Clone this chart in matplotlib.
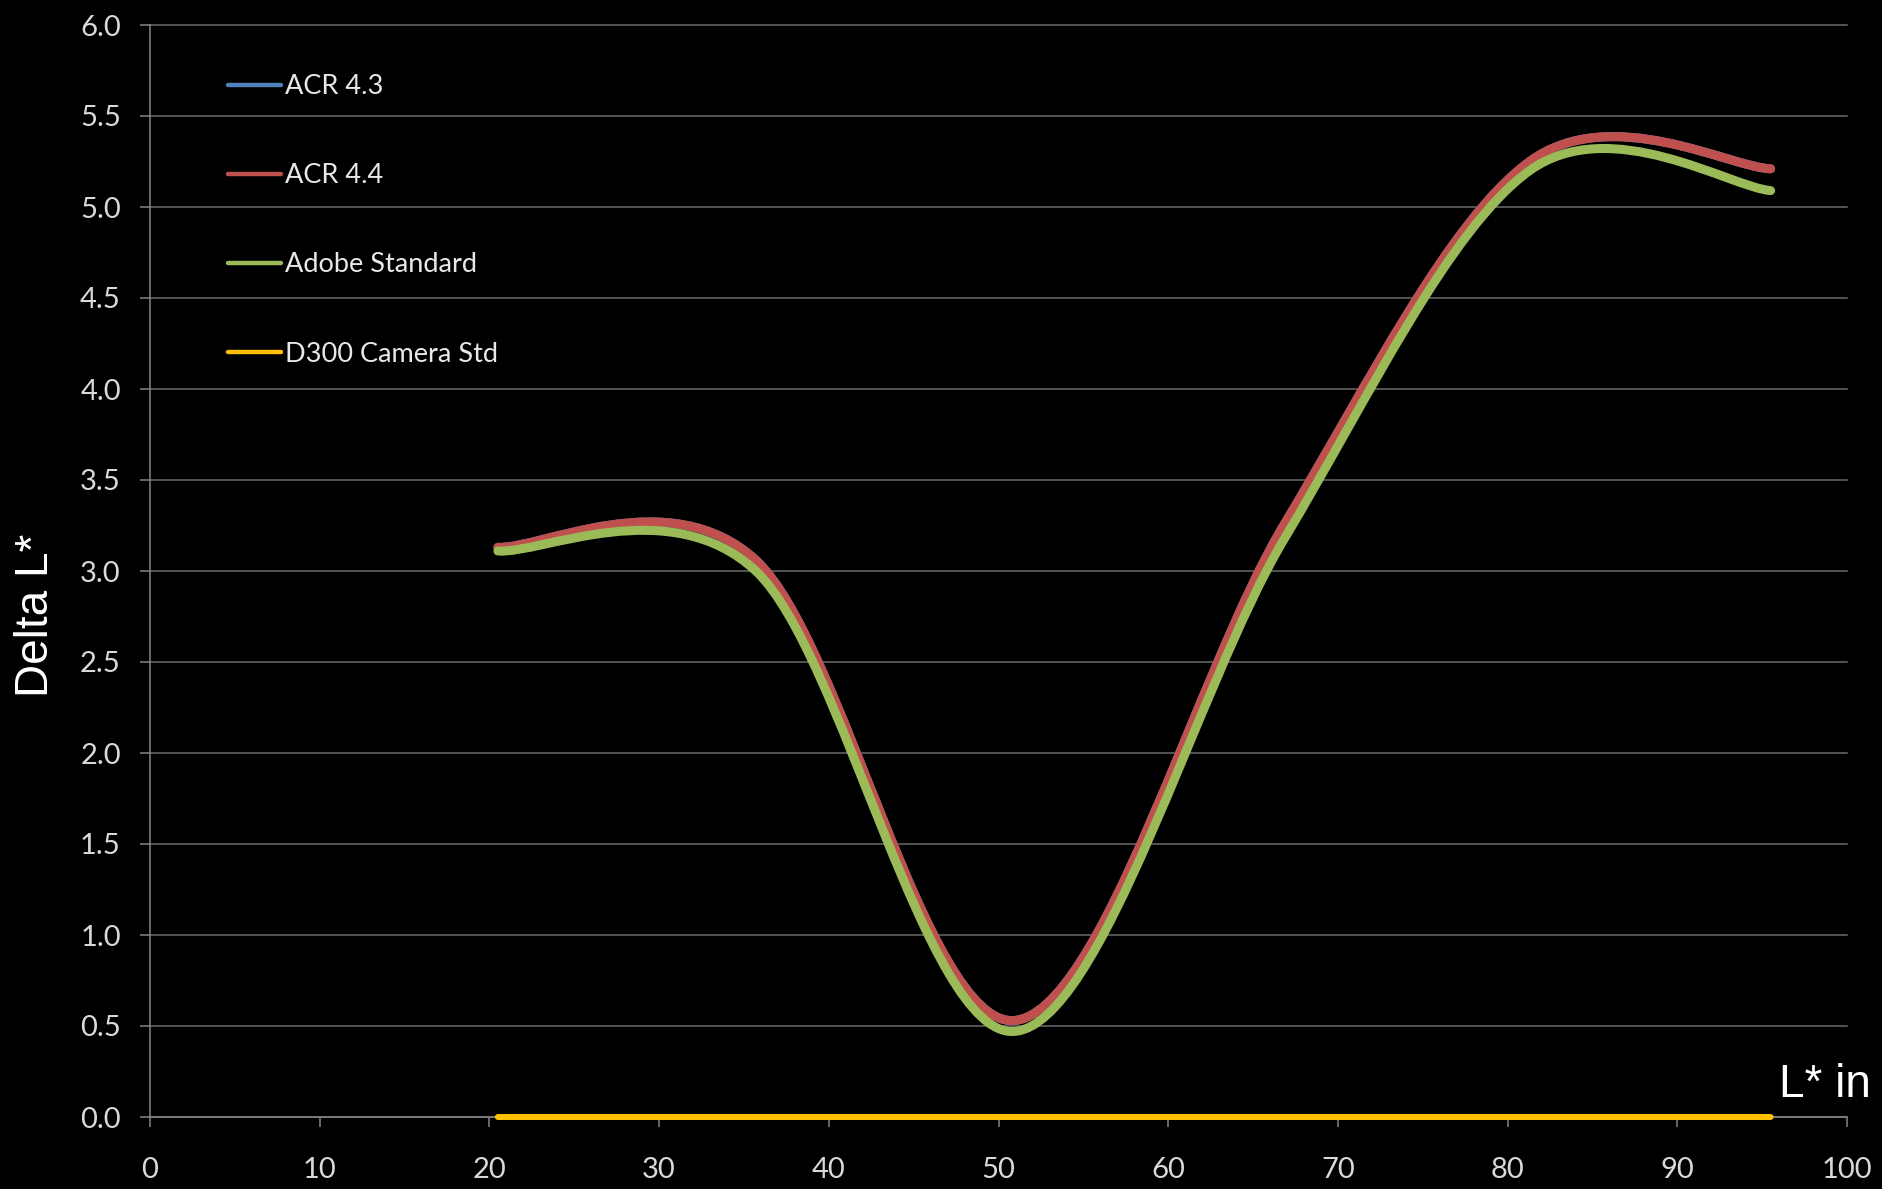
import matplotlib
matplotlib.use('Agg')
import matplotlib.pyplot as plt
from matplotlib.path import Path
from matplotlib.patches import PathPatch
from matplotlib.lines import Line2D

# ---- data ----
L_in = [20.5, 35.7, 50.9, 66.8, 81.3, 95.5]
acr43 = [3.13, 3.06, 0.53, 3.25, 5.25, 5.21]
acr44 = [3.13, 3.06, 0.53, 3.25, 5.25, 5.21]
adobe_std = [3.11, 3.00, 0.47, 3.17, 5.20, 5.09]
d300_std = [0.0, 0.0, 0.0, 0.0, 0.0, 0.0]
series_names = ['ACR 4.3', 'ACR 4.4', 'Adobe Standard', 'D300 Camera Std']
x_ticks = [0, 10, 20, 30, 40, 50, 60, 70, 80, 90, 100]
y_ticks = [0.0, 0.5, 1.0, 1.5, 2.0, 2.5, 3.0, 3.5, 4.0, 4.5, 5.0, 5.5, 6.0]

colors = ['#4F81BD', '#C0504D', '#9BBB59', '#FFC000']
widths = [6.5, 6.5, 6.5, 4.3]


def smooth_path(xs, ys):
    """Excel-style smoothed line (Catmull-Rom -> cubic Bezier)."""
    pts = list(zip(xs, ys))
    n = len(pts)
    verts = [pts[0]]
    codes = [Path.MOVETO]
    for i in range(n - 1):
        p0 = pts[max(i - 1, 0)]
        p1 = pts[i]
        p2 = pts[i + 1]
        p3 = pts[min(i + 2, n - 1)]
        c1 = (p1[0] + (p2[0] - p0[0]) / 6.0, p1[1] + (p2[1] - p0[1]) / 6.0)
        c2 = (p2[0] - (p3[0] - p1[0]) / 6.0, p2[1] - (p3[1] - p1[1]) / 6.0)
        verts += [c1, c2, p2]
        codes += [Path.CURVE4] * 3
    return Path(verts, codes)


W, H = 1883, 1189
fig = plt.figure(figsize=(W / 100, H / 100), dpi=100, facecolor='black')
ax = fig.add_axes([150 / W, 1 - 1117 / H, (1847 - 150) / W, (1117 - 25) / H])
ax.set_facecolor('black')

grid_col = '#6a6a6a'
spine_col = '#858585'
tick_col = '#d9d9d9'

ax.set_xlim(0, 100)
ax.set_ylim(0, 6)
ax.set_xticks(x_ticks)
ax.set_yticks(y_ticks)
ax.set_xticklabels([str(v) for v in x_ticks])
ax.set_yticklabels([f'{v:.1f}' for v in y_ticks])

for s in ['top', 'right']:
    ax.spines[s].set_visible(False)
for s in ['left', 'bottom']:
    ax.spines[s].set_color(spine_col)
    ax.spines[s].set_linewidth(1.1)

ax.yaxis.grid(True, color=grid_col, linewidth=1.1)
ax.set_axisbelow(True)
for gl in ax.get_ygridlines():
    gl.set_clip_on(False)

ax.tick_params(axis='both', direction='out', length=7, width=1.1, color=spine_col,
               labelcolor=tick_col, labelsize=21)
ax.tick_params(axis='y', pad=14)
ax.tick_params(axis='x', pad=22)
for lab in ax.get_xticklabels() + ax.get_yticklabels():
    lab.set_fontfamily('Lato')

all_series = [acr43, acr44, adobe_std, d300_std]
handles = []
for i, (name, ys) in enumerate(zip(series_names, all_series)):
    patch = PathPatch(smooth_path(L_in, ys), facecolor='none', edgecolor=colors[i],
                      linewidth=widths[i], capstyle='round', joinstyle='round',
                      clip_on=False, zorder=3 + i)
    ax.add_patch(patch)
    handles.append(Line2D([], [], color=colors[i], linewidth=3.2,
                          solid_capstyle='round', label=name))

leg = ax.legend(handles=handles, loc='upper left',
                bbox_to_anchor=(228 / W, 1 - 74 / H), bbox_transform=fig.transFigure,
                frameon=False, borderpad=0, borderaxespad=0,
                handlelength=1.95, handletextpad=0.15, labelspacing=2.37,
                prop={'family': 'Lato', 'size': 19.5})
for t in leg.get_texts():
    t.set_color('#e8e8e8')

fig.text(36 / W, 1 - 615 / H, 'Delta L*', rotation=90, ha='center', va='center',
         color='white', fontsize=33, fontfamily='Liberation Sans')
fig.text(1779 / W, 1 - 1096.7 / H, 'L* in', ha='left', va='baseline',
         color='white', fontsize=33, fontfamily='Liberation Sans')

fig.savefig('out.png', dpi=100, facecolor='black')
